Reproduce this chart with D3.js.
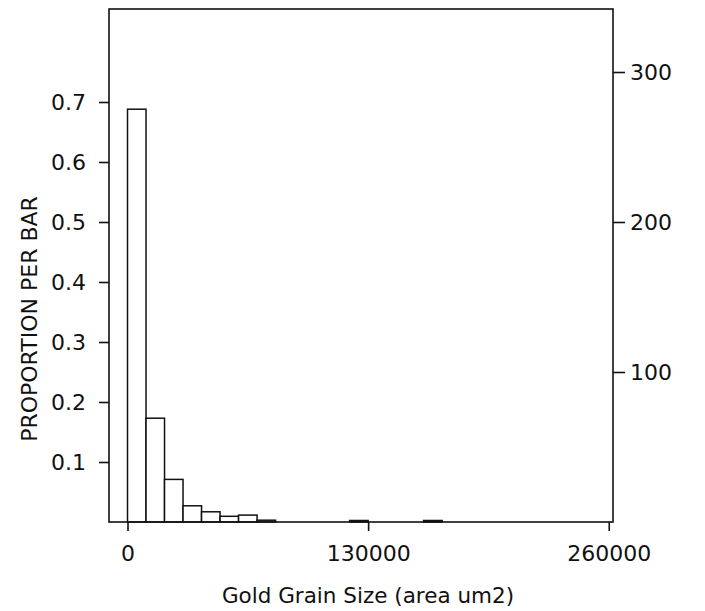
<!DOCTYPE html>
<html>
<head>
<meta charset="utf-8">
<script src="https://cdn.jsdelivr.net/npm/d3@7"></script>
<style>
  html, body { margin: 0; padding: 0; background: #fff; }
  svg text { font-family: "DejaVu Sans", sans-serif; fill: #111; }
</style>
</head>
<body>
<svg id="chart" width="705" height="611"></svg>
<script>
// histogram bins, 10000 wide, starting at 0
const binStart = [0, 10000, 20000, 30000, 40000, 50000, 60000, 70000, 80000,
                  90000, 100000, 110000, 120000, 130000, 140000, 150000, 160000];
const proportion = [0.688, 0.173, 0.071, 0.027, 0.017, 0.0095, 0.0115, 0.003, 0,
                    0, 0, 0, 0.0025, 0, 0, 0, 0.0025];
const binWidth = 10000;
const totalCount = 400;   // right axis = proportion * total

const xTicks = [0, 130000, 260000];
const leftTicks = [0.1, 0.2, 0.3, 0.4, 0.5, 0.6, 0.7];
const rightTicks = [100, 200, 300];

const svg = d3.select('#chart');

const x = d3.scaleLinear().domain([-10000, 262300]).range([109, 613]);
const y = d3.scaleLinear().domain([0, 0.855]).range([522, 9]);

// bars
svg.append('g')
    .selectAll('rect')
    .data(binStart.map((b, i) => ({ b, p: proportion[i] })))
    .join('rect')
    .attr('x', d => x(d.b))
    .attr('y', d => y(d.p))
    .attr('width', d => x(d.b + binWidth) - x(d.b))
    .attr('height', d => y(0) - y(d.p))
    .attr('fill', '#fff')
    .attr('stroke', '#111')
    .attr('stroke-width', 1.5);

// frame
svg.append('rect')
    .attr('x', x.range()[0])
    .attr('y', y.range()[1])
    .attr('width', x.range()[1] - x.range()[0])
    .attr('height', y.range()[0] - y.range()[1])
    .attr('fill', 'none')
    .attr('stroke', '#111')
    .attr('stroke-width', 1.6);

function styleAxis(g) {
    g.select('.domain').remove();
    g.selectAll('line').attr('stroke', '#111').attr('stroke-width', 1.6);
    g.selectAll('text').attr('font-size', 22).attr('fill', '#111');
}

svg.append('g')
    .attr('transform', `translate(0,${y(0)})`)
    .call(d3.axisBottom(x).tickValues(xTicks).tickSize(9).tickPadding(14).tickFormat(d3.format('d')))
    .call(styleAxis);

svg.append('g')
    .attr('transform', `translate(${x.range()[0]},0)`)
    .call(d3.axisLeft(y).tickValues(leftTicks).tickSize(10).tickPadding(13).tickFormat(d3.format('.1f')))
    .call(styleAxis);

const yCount = d3.scaleLinear().domain([0, totalCount * 0.855]).range(y.range());
svg.append('g')
    .attr('transform', `translate(${x.range()[1]},0)`)
    .call(d3.axisRight(yCount).tickValues(rightTicks).tickSize(12).tickPadding(5))
    .call(styleAxis);

// axis titles
svg.append('text')
    .attr('transform', 'translate(37,319) rotate(-90)')
    .attr('text-anchor', 'middle')
    .attr('font-size', 22)
    .text('PROPORTION PER BAR');

svg.append('text')
    .attr('x', 368)
    .attr('y', 603)
    .attr('text-anchor', 'middle')
    .attr('font-size', 21.5)
    .text('Gold Grain Size (area um2)');
</script>
</body>
</html>
